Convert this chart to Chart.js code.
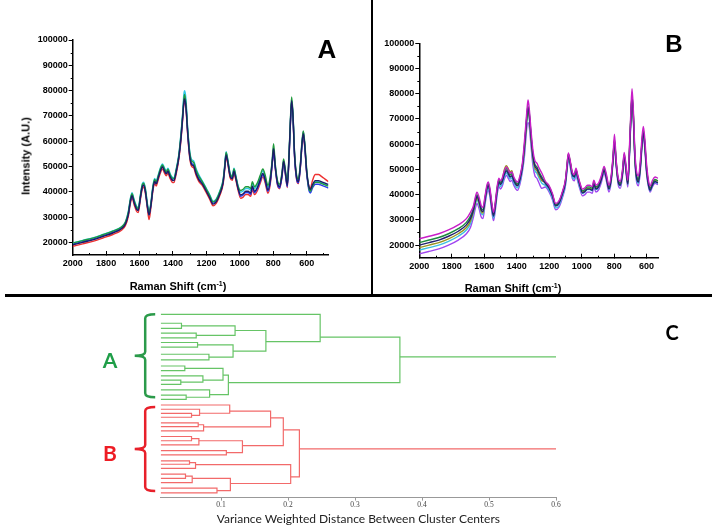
<!DOCTYPE html>
<html>
<head>
<meta charset="utf-8">
<script src="https://cdn.jsdelivr.net/npm/chart.js@4.4.1/dist/chart.umd.min.js"></script>
<style>
  body { margin:0; width:714px; height:532px; background:#fff; position:relative; overflow:hidden; }
  canvas { position:absolute; }
  .lbl { position:absolute; transform:translate(-50%,-50%); white-space:nowrap; line-height:1; }
  .ax { font-family:"Liberation Sans", Arial, sans-serif; font-weight:bold; font-size:11px; color:#000; }
  .panel { font-family:"Liberation Sans", Arial, sans-serif; font-weight:bold; color:#000; }
  .grp { font-family:Lato, "Open Sans", sans-serif; font-weight:bold; font-size:21px; }
  .rule { position:absolute; background:#000; }
</style>
</head>
<body>
<canvas id="chartA" width="370" height="295" style="left:0;top:0"></canvas>
<canvas id="chartB" width="342" height="295" style="left:372px;top:0"></canvas>
<canvas id="chartC" width="714" height="236" style="left:0;top:296px"></canvas>

<div class="rule" style="left:371px;top:0;width:2px;height:295px"></div>
<div class="rule" style="left:5px;top:294px;width:707px;height:2.5px"></div>

<div class="lbl panel" style="left:327px;top:49px;font-size:26px">A</div>
<div class="lbl panel" style="left:674px;top:44px;font-size:24px">B</div>
<div class="lbl grp" style="left:672px;top:332px;font-size:20px;color:#000">C</div>
<div class="lbl grp" style="left:110px;top:359px;color:#1f9e48">A</div>
<div class="lbl grp" style="left:110px;top:452px;color:#ee1c24">B</div>

<div class="lbl ax" style="left:26px;top:156px;transform:translate(-50%,-50%) rotate(-90deg)">Intensity (A.U.)</div>
<div class="lbl ax" style="left:178px;top:286px">Raman Shift (cm<sup style="font-size:7px">-1</sup>)</div>
<div class="lbl ax" style="left:513px;top:288px">Raman Shift (cm<sup style="font-size:7px">-1</sup>)</div>

<script>
// Raman shift grid (cm-1), shared by all spectra
const ramanShift = [2000,1940,1880,1820,1760,1710,1685,1667,1655,1645,1632,1618,1608,1595,1583,1575,1565,1553,1543,1532,
  1520,1510,1500,1490,1476,1463,1450,1440,1430,1418,1405,1395,1380,1365,1352,1342,1335,1330,1322,1312,
  1300,1288,1276,1262,1245,1225,1200,1180,1160,1140,1120,1100,1090,1082,1072,1058,1045,1035,1025,1010,
  995,980,965,950,935,925,912,895,878,862,848,832,818,807,798,788,775,762,748,738,
  728,716,705,697,690,682,672,660,650,638,628,620,611,600,588,578,565,548,530,510,490,470];

// intensities in thousands of counts
// panel A
const specA_cyan = [19.8,20.8,21.8,23.1,24.5,26.1,28.0,
  32.3,37.3,39.6,36.8,34.3,33.8,38.8,43.3,43.8,41.3,35.3,32.0,35.8,42.3,45.3,44.3,46.3,49.3,51.0,49.3,48.3,49.3,47.3,45.8,45.6,49.3,54.8,
  63.2,71.2,78.5,80.0,76.5,65.2,56.2,52.7,52.2,49.2,46.7,
  44.3,41.3,38.8,36.3,37.3,40.3,44.8,50.8,55.8,52.8,47.3,46.3,49.3,46.8,42.3,
  39.8,40.3,41.3,41.3,40.6,43.3,41.3,42.8,45.8,48.3,45.8,41.8,45.3,
  51.3,57.3,50.3,43.8,42.3,46.8,52.3,48.3,42.8,55.3,68.3,76.3,70.3,54.3,45.8,44.3,50.3,59.3,63.3,58.3,48.3,
  42.0,40.5,42.5,44.0,44.0,43.5,43.0,42.5];
const specA_green = [19.7,20.7,21.7,23.0,24.4,26.0,27.9,
  31.9,36.9,39.2,36.4,33.9,33.4,38.4,42.9,43.4,40.9,34.9,31.6,35.4,41.9,44.9,43.9,45.9,48.9,50.6,48.9,47.9,48.9,46.9,45.4,45.2,48.9,54.4,
  62.6,70.6,76.6,78.5,74.6,64.6,55.6,52.1,51.6,48.6,46.1,
  44.0,41.0,38.5,36.0,37.0,40.0,44.5,50.5,55.5,52.5,47.0,46.0,49.0,46.5,42.0,
  40.5,41.0,42.0,42.0,41.3,44.0,42.0,43.5,46.5,49.0,46.5,42.5,46.0,
  52.0,59.0,51.0,44.5,43.0,47.5,53.0,49.0,43.5,56.0,69.0,77.5,71.0,55.0,46.5,45.0,51.0,60.0,64.0,59.0,49.0,
  41.7,40.2,42.2,43.7,43.7,43.2,42.7,42.2];
const specA_blue = [19.3,20.3,21.3,22.6,24.0,25.6,27.5,
  31.3,36.3,38.6,35.8,33.3,32.8,37.8,42.3,42.8,40.3,34.3,31.0,34.8,41.3,44.3,43.3,45.3,48.3,50.0,48.3,47.3,48.3,46.3,44.8,44.6,48.3,53.8,
  61.7,69.7,75.7,77.2,73.7,63.7,54.7,51.2,50.7,47.7,45.2,
  43.5,40.5,38.0,35.5,36.5,39.5,44.0,50.0,55.0,52.0,46.5,45.5,48.5,46.0,41.5,
  38.2,38.7,39.7,39.7,39.0,41.7,39.7,41.2,44.2,46.7,44.2,40.2,43.7,
  50.5,55.5,49.5,43.0,41.5,46.0,51.5,47.5,42.0,54.5,67.5,75.5,69.5,53.5,45.0,43.5,49.5,58.5,63.8,57.5,47.5,
  41.0,39.5,41.5,43.0,43.0,42.5,42.0,41.5];
const specA_navy = [19.0,20.0,21.0,22.3,23.7,25.3,27.2,
  31.1,36.1,38.4,35.6,33.1,32.6,37.6,42.1,42.6,40.1,34.1,30.8,34.6,41.1,44.1,43.1,45.1,48.1,49.8,48.1,47.1,48.1,46.1,44.6,44.4,48.1,53.6,
  61.2,69.2,75.2,76.7,73.2,63.2,54.2,50.7,50.2,47.2,44.7,
  43.1,40.1,37.6,35.1,36.1,39.1,43.6,49.6,54.6,51.6,46.1,45.1,48.1,45.6,41.1,
  38.7,39.2,40.2,40.2,39.5,42.2,40.2,41.7,44.7,47.2,44.7,40.7,44.2,
  51.0,57.0,50.0,43.5,42.0,46.5,52.0,48.0,42.5,55.0,68.0,76.0,70.0,54.0,45.5,44.0,50.0,59.0,63.0,58.0,48.0,
  42.4,40.9,42.9,44.4,44.4,43.9,43.4,42.9];
const specA_red = [18.4,19.4,20.4,21.7,23.1,24.7,26.6,
  30.3,35.3,37.6,34.8,32.3,31.8,36.8,41.3,41.8,39.3,33.3,29.0,33.8,40.3,43.3,42.3,44.3,47.3,49.0,47.3,46.3,47.3,45.3,43.8,43.6,47.3,52.8,
  60.5,68.5,74.5,75.0,72.5,62.5,53.5,50.0,49.5,46.5,44.0,
  42.5,39.5,37.0,34.5,35.5,38.5,43.0,49.0,54.0,51.0,45.5,44.5,47.5,45.0,40.5,
  37.4,37.9,38.9,38.9,38.2,40.9,38.9,40.4,43.4,45.9,43.4,39.4,42.9,
  50.2,56.2,49.2,42.7,41.2,45.7,51.2,47.2,41.7,54.2,67.2,75.2,69.2,53.2,44.7,43.2,49.2,58.2,61.0,57.2,47.2,
  42.5,41.5,44.5,46.8,46.8,46.0,45.0,44.0];

// panel B (grid down to 530 cm-1)
const specB_magenta = [22.5,23.5,24.5,26.0,28.0,30.5,33.0,
  35.5,39.0,41.0,39.0,35.5,35.0,
  39.5,44.0,45.0,42.5,36.5,33.0,37.0,43.5,46.5,45.5,46.5,49.5,51.0,49.5,48.5,49.0,47.0,45.5,45.0,47.5,52.5,
  61.5,69.5,75.0,77.5,73.5,65.5,57.5,53.5,52.5,50.5,48.5,
  45.5,43.5,40.5,36.5,37.5,41.0,46.0,52.0,56.5,54.0,49.0,48.0,50.5,48.0,44.5,
  42.2,42.7,43.7,43.7,43.2,45.7,43.7,44.7,47.7,51.2,48.2,43.7,47.7,55.2,64.0,54.2,46.7,45.2,50.2,56.7,52.2,45.7,
  60.0,73.0,82.0,74.0,57.0,48.5,47.5,54.0,63.0,67.0,62.0,52.0,
  45.5,43.5,45.5,47.0,46.5];
const specB_green = [21.0,22.0,23.0,24.5,26.5,29.0,31.5,
  34.5,38.0,40.0,38.0,34.5,34.0,
  38.8,43.3,44.3,41.8,35.8,32.3,36.3,42.8,45.8,44.8,45.8,48.8,50.3,48.8,47.8,48.3,46.3,44.8,44.3,46.8,51.8,
  60.0,68.0,73.5,75.0,72.0,64.0,56.0,52.0,51.0,49.0,47.0,
  45.0,43.0,40.0,36.0,37.0,40.5,45.5,51.5,56.0,53.5,48.5,47.5,50.0,47.5,44.0,
  41.5,42.0,43.0,43.0,42.5,45.0,43.0,44.0,47.0,50.5,47.5,43.0,47.0,54.5,62.0,53.5,46.0,44.5,49.5,56.0,51.5,45.0,
  58.5,71.5,79.5,72.5,55.5,47.0,46.0,52.5,61.5,65.5,60.5,50.5,
  44.5,42.5,44.5,46.0,45.5];
const specB_navy = [20.0,21.0,22.0,23.5,25.5,28.0,30.5,
  33.8,37.3,39.3,37.3,33.8,33.3,
  38.0,42.5,43.5,41.0,35.0,31.5,35.5,42.0,45.0,44.0,45.0,48.0,49.5,48.0,47.0,47.5,45.5,44.0,43.5,46.0,51.0,
  59.3,67.3,72.8,74.3,71.3,63.3,55.3,51.3,50.3,48.3,46.3,
  44.5,42.5,39.5,35.5,36.5,40.0,45.0,51.0,55.5,53.0,48.0,47.0,49.5,47.0,43.5,
  40.7,41.2,42.2,42.2,41.7,44.2,42.2,43.2,46.2,49.7,46.7,42.2,46.2,53.7,61.2,52.7,45.2,43.7,48.7,55.2,50.7,44.2,
  57.5,70.5,78.5,71.5,54.5,46.0,45.0,51.5,60.5,64.5,59.5,49.5,
  43.7,41.7,43.7,45.2,44.7];
const specB_olive = [19.0,20.0,21.0,22.5,24.5,27.0,29.5,
  33.2,36.7,38.7,36.7,33.2,32.7,
  38.5,43.0,44.0,41.5,35.5,32.0,36.0,42.5,45.5,44.5,45.5,50.0,51.5,50.0,49.0,49.5,46.0,44.5,44.0,46.5,51.5,
  58.5,66.5,72.0,73.5,70.5,62.5,54.5,50.5,49.5,47.5,45.5,
  45.0,43.0,40.0,36.0,37.0,40.5,45.5,51.5,56.0,53.5,48.5,47.5,50.0,47.5,44.0,
  41.0,41.5,42.5,42.5,42.0,44.5,42.5,43.5,46.5,50.0,47.0,42.5,46.5,54.0,61.5,53.0,45.5,44.0,49.0,55.5,51.0,44.5,
  58.0,71.0,79.0,72.0,55.0,46.5,45.5,52.0,61.0,65.0,60.0,50.0,
  44.3,42.3,44.3,45.8,45.3];
const specB_cyan = [18.0,19.0,20.0,21.5,23.5,26.0,28.5,
  32.5,36.0,38.0,36.0,32.5,32.0,
  37.2,41.7,42.7,40.2,34.2,30.7,34.7,41.2,44.2,43.2,44.2,47.2,48.7,47.2,46.2,46.7,44.7,43.2,42.7,45.2,50.2,
  57.5,65.5,71.0,72.5,69.5,61.5,53.5,49.5,48.5,46.5,44.5,
  43.7,41.7,38.7,34.7,35.7,39.2,44.2,50.2,54.7,52.2,47.2,46.2,48.7,46.2,42.7,
  40.5,41.0,42.0,42.0,41.5,44.0,42.0,43.0,46.0,49.5,46.5,42.0,46.0,53.5,61.0,52.5,45.0,43.5,48.5,55.0,50.5,44.0,
  57.0,70.0,78.0,71.0,54.0,45.5,44.5,51.0,60.0,64.0,59.0,49.0,
  43.5,41.5,43.5,45.0,44.5];
const specB_violet = [16.5,17.5,18.5,20.0,22.0,24.5,27.0,
  31.0,34.5,36.5,34.5,31.0,30.5,
  36.2,40.7,41.7,39.2,33.2,29.7,33.7,40.2,43.2,42.2,43.2,46.2,47.7,46.2,45.2,45.7,43.7,42.2,41.7,44.2,49.2,
  55.5,63.5,68.0,68.5,66.5,59.5,51.5,47.5,46.5,44.5,42.5,
  43.0,41.0,38.0,34.0,35.0,38.5,43.5,49.5,54.0,51.5,46.5,45.5,48.0,45.5,42.0,
  39.5,40.0,41.0,41.0,40.5,43.0,41.0,42.0,45.0,48.5,45.5,41.0,45.0,52.5,59.0,51.5,44.0,42.5,47.5,54.0,49.5,43.0,
  56.0,69.0,75.0,70.0,53.0,44.5,43.5,50.0,59.0,63.0,58.0,48.0,
  43.0,41.0,43.0,44.5,44.0];

const ramanTicks = [2000,1800,1600,1400,1200,1000,800,600];
const ramanMinorTicks = [1900,1700,1500,1300,1100,900,700,500];
const intensityTicks = [20000,30000,40000,50000,60000,70000,80000,90000,100000];
const intensityMinorTicks = [25000,35000,45000,55000,65000,75000,85000,95000];

// dendrogram (panel C): leaf positions in order, merges = [childA, childB, distance]
// children: 0..n-1 are leaves, n.. are earlier merges in list order
const greenLeaves = [0,1.9,3.0,4.0,5.0,6.0,7.0,8.5,9.7,11.0,12.0,13.1,14.0,14.9,16.1,17.2,18.1];
const greenMerges = [[1,2,0.041],[3,4,0.063],[17,18,0.121],[5,6,0.065],[7,8,0.082],[20,21,0.118],
  [19,22,0.167],[0,23,0.248],[9,10,0.046],[12,13,0.040],[11,26,0.073],[25,27,0.103],
  [15,16,0.048],[14,29,0.083],[28,30,0.111],[24,31,0.367]];
const redLeaves = [19.3,20.2,21.1,21.9,23.1,23.9,24.8,26.0,26.9,27.8,29.0,29.9,31.2,31.9,32.8,34.0,34.9,35.8,37.0,38.0];
const redMerges = [[2,3,0.056],[1,20,0.068],[0,21,0.113],[4,5,0.066],[23,6,0.074],[22,24,0.174],
  [7,8,0.056],[26,9,0.067],[10,11,0.108],[27,28,0.132],[25,29,0.193],
  [12,13,0.053],[31,14,0.062],[15,16,0.047],[33,17,0.057],[18,19,0.094],[34,35,0.114],[32,36,0.204],[30,37,0.217]];
const leafDistance = 0.01;
const rootEnd = 0.6;
const distanceTicks = [0.1,0.2,0.3,0.4,0.5,0.6];

function spectrum(vals, color) {
  return {
    data: vals.map(function(v, i) { return {x: ramanShift[i], y: v * 1000}; }),
    borderColor: color,
    borderWidth: 1.4,
    pointRadius: 0,
    cubicInterpolationMode: 'monotone'
  };
}

// short minor tick marks, inward on x, outward on y
var minorTicks = {
  id: 'minorTicks',
  afterDraw: function(chart) {
    var ctx = chart.ctx, xs = chart.scales.x, ys = chart.scales.y, a = chart.chartArea;
    ctx.save();
    ctx.strokeStyle = '#000';
    ctx.lineWidth = 1;
    ctx.beginPath();
    ramanMinorTicks.forEach(function(v) {
      if (v < xs.min) return;
      var px = Math.round(xs.getPixelForValue(v)) + 0.5;
      ctx.moveTo(px, a.bottom); ctx.lineTo(px, a.bottom - 2);
    });
    intensityMinorTicks.forEach(function(v) {
      var py = Math.round(ys.getPixelForValue(v)) + 0.5;
      ctx.moveTo(a.left, py); ctx.lineTo(a.left - 2, py);
    });
    ctx.stroke();
    ctx.restore();
  }
};

function spectrumOptions(xMin, padLeftAxis, pad, xAxisH) {
  var tickFont = {family: 'Liberation Sans', weight: 'bold', size: 9};
  return {
    responsive: false,
    animation: false,
    devicePixelRatio: 1,
    layout: {padding: pad},
    plugins: {legend: {display: false}, tooltip: {enabled: false}},
    scales: {
      x: {
        type: 'linear', reverse: true, min: xMin, max: 2000,
        afterBuildTicks: function(ax) { ax.ticks = ramanTicks.map(function(v) { return {value: v}; }); },
        afterFit: function(s) { s.height = xAxisH; },
        border: {color: '#000', width: 1.5},
        grid: {drawOnChartArea: false, color: '#000', tickLength: -4},
        ticks: {font: tickFont, color: '#000', padding: 7, maxRotation: 0, autoSkip: false,
          callback: function(v) { return String(v); }}
      },
      y: {
        min: 15000, max: 100000,
        afterBuildTicks: function(ax) { ax.ticks = intensityTicks.map(function(v) { return {value: v}; }); },
        afterFit: function(s) { s.width = padLeftAxis; },
        border: {color: '#000', width: 1.5},
        grid: {drawOnChartArea: false, color: '#000', tickLength: 4},
        ticks: {font: tickFont, color: '#000', padding: 1, autoSkip: false,
          callback: function(v) { return String(v); }}
      }
    }
  };
}

new Chart(document.getElementById('chartA'), {
  type: 'line',
  data: {datasets: [
    spectrum(specA_navy, '#1c1c66'),
    spectrum(specA_green, '#1f9a3c'),
    spectrum(specA_blue, '#2a3cf0'),
    spectrum(specA_cyan, '#30c8e8'),
    spectrum(specA_red, '#ee3030')
  ]},
  plugins: [minorTicks],
  options: spectrumOptions(470, 72.7, {left: 0, top: 40, right: 41.6, bottom: 0}, 40)
});

new Chart(document.getElementById('chartB'), {
  type: 'line',
  data: {datasets: [
    spectrum(specB_magenta, '#c81ec8'),
    spectrum(specB_navy, '#22226e'),
    spectrum(specB_green, '#1e8a40'),
    spectrum(specB_olive, '#9a9420'),
    spectrum(specB_cyan, '#3cc0e0'),
    spectrum(specB_violet, '#a046f0')
  ]},
  plugins: [minorTicks],
  options: spectrumOptions(528, 47.3, {left: 0, top: 43.3, right: 55.7, bottom: 0}, 37.3)
});

// dendrogram
function dendroSegments(leaves, merges) {
  var nodes = leaves.map(function(p) { return {lo: p, hi: p, h: leafDistance}; });
  var segs = [];
  merges.forEach(function(m) {
    var A = nodes[m[0]], B = nodes[m[1]], h = m[2];
    var ya = (A.lo + A.hi) / 2, yb = (B.lo + B.hi) / 2;
    segs.push([{x: A.h, y: ya}, {x: h, y: ya}, {x: h, y: yb}, {x: B.h, y: yb}]);
    nodes.push({lo: Math.min(A.lo, B.lo), hi: Math.max(A.hi, B.hi), h: h});
  });
  var root = nodes[nodes.length - 1];
  var yr = (root.lo + root.hi) / 2;
  segs.push([{x: root.h, y: yr}, {x: rootEnd, y: yr}]);
  return segs;
}

var dendroSets = [];
dendroSegments(greenLeaves, greenMerges).forEach(function(s) {
  dendroSets.push({data: s, borderColor: '#66c466', borderWidth: 1.2, pointRadius: 0, tension: 0});
});
dendroSegments(redLeaves, redMerges).forEach(function(s) {
  dendroSets.push({data: s, borderColor: '#f26a6a', borderWidth: 1.2, pointRadius: 0, tension: 0});
});

var bracketPlugin = {
  id: 'brackets',
  afterDraw: function(chart) {
    var ctx = chart.ctx, y = chart.scales.y, left = chart.chartArea.left;
    function brace(top, bottom, color) {
      var xr = left - 5.5, xv = left - 15.5, xt = left - 26, r = 4;
      var mid = (top + bottom) / 2;
      ctx.save();
      ctx.strokeStyle = color;
      ctx.lineWidth = 2.5;
      ctx.beginPath();
      ctx.moveTo(xr, top);
      ctx.quadraticCurveTo(xv, top, xv, top + r);
      ctx.lineTo(xv, mid - r);
      ctx.quadraticCurveTo(xv, mid, xt, mid);
      ctx.quadraticCurveTo(xv, mid, xv, mid + r);
      ctx.lineTo(xv, bottom - r);
      ctx.quadraticCurveTo(xv, bottom, xr, bottom);
      ctx.stroke();
      ctx.restore();
    }
    brace(y.getPixelForValue(greenLeaves[0]), y.getPixelForValue(greenLeaves[greenLeaves.length - 1]) - 2, '#2b9a4a');
    brace(y.getPixelForValue(redLeaves[0]) + 2, y.getPixelForValue(redLeaves[redLeaves.length - 1]) - 2, '#e8202a');
  }
};

new Chart(document.getElementById('chartC'), {
  type: 'line',
  data: {datasets: dendroSets},
  plugins: [bracketPlugin],
  options: {
    responsive: false,
    animation: false,
    devicePixelRatio: 1,
    layout: {padding: {left: 160.7, top: 13.6, right: 158, bottom: 0}},
    plugins: {legend: {display: false}, tooltip: {enabled: false}},
    scales: {
      x: {
        type: 'linear', min: leafDistance, max: rootEnd,
        afterBuildTicks: function(ax) { ax.ticks = distanceTicks.map(function(v) { return {value: v}; }); },
        afterFit: function(s) { s.height = 34.4; },
        border: {color: '#999', width: 1},
        grid: {drawOnChartArea: false, color: '#999', tickLength: 3},
        ticks: {font: {family: 'Liberation Serif', size: 7.5}, color: '#444', padding: 0, maxRotation: 0,
          callback: function(v) { return String(v); }},
        title: {display: true, text: 'Variance Weighted Distance Between Cluster Centers',
          font: {family: 'Lato', size: 12}, color: '#222', padding: {top: 0, bottom: 6}}
      },
      y: {type: 'linear', reverse: true, min: -1, max: 39, display: false}
    }
  }
});
</script>
</body>
</html>
